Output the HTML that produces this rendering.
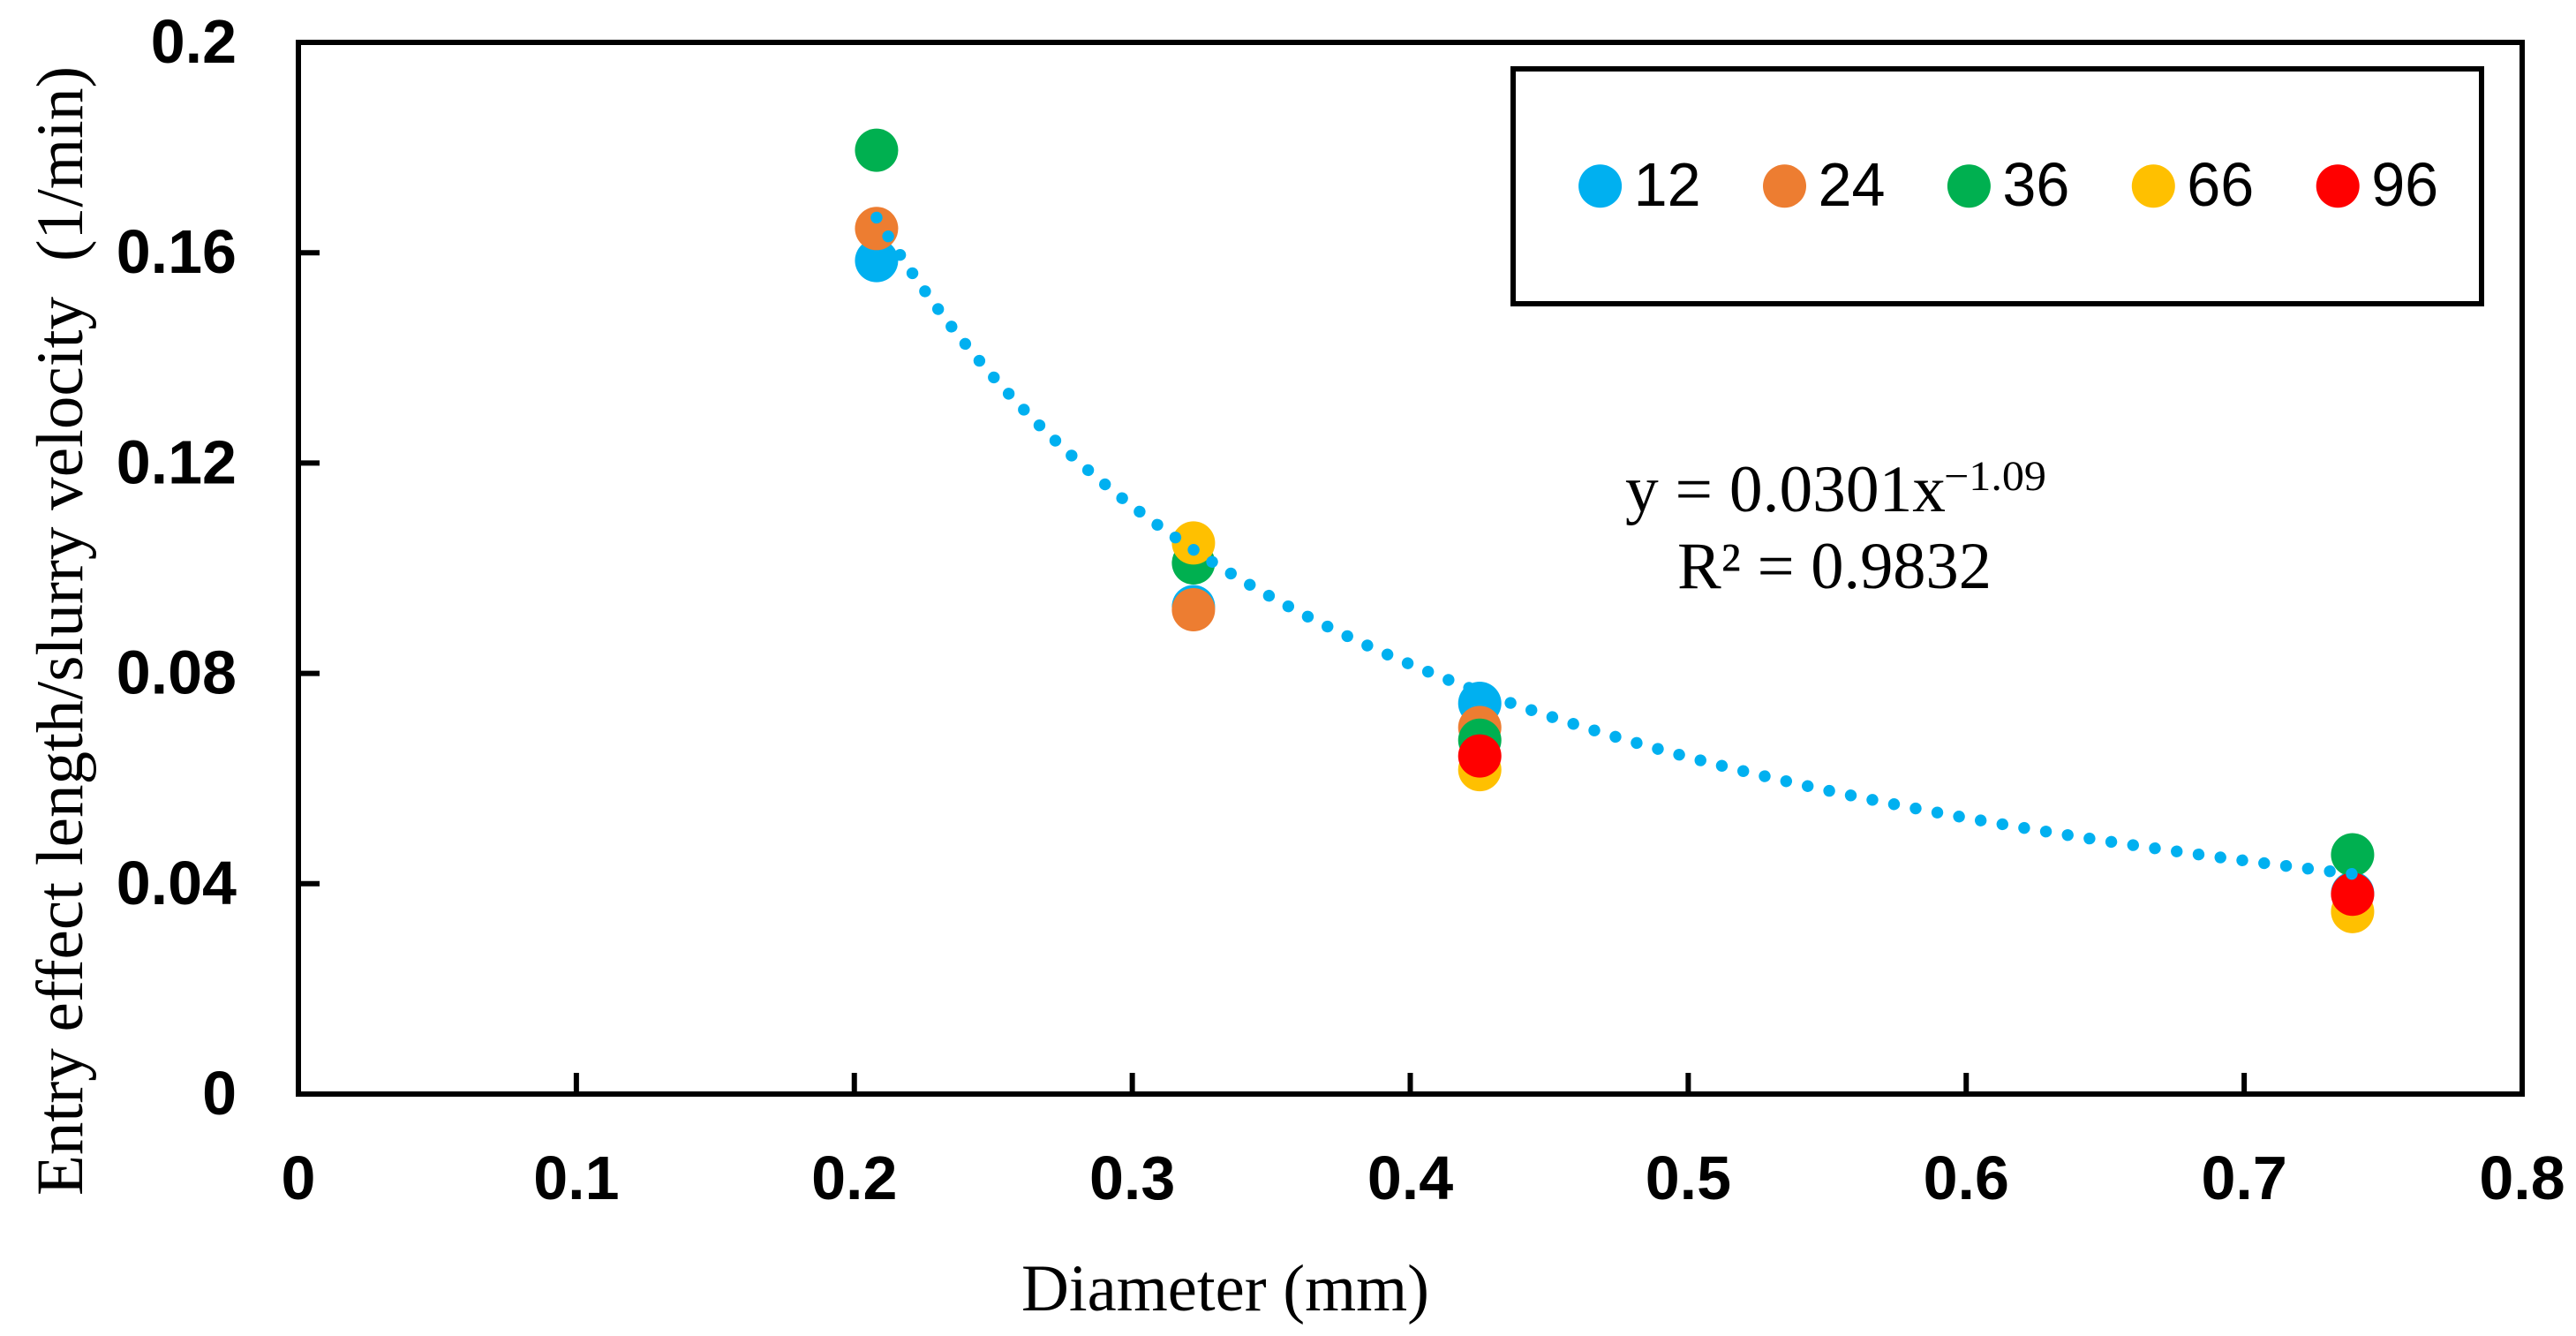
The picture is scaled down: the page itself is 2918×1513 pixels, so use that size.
<!DOCTYPE html>
<html lang="en">
<head>
<meta charset="utf-8">
<title>Entry effect length per slurry velocity vs diameter</title>
<style>
  html, body { margin: 0; padding: 0; background: #ffffff; }
  svg { display: block; }
  text { white-space: pre; }
  .sans { font-family: "Liberation Sans", sans-serif; fill: #000; }
  .serif { font-family: "Liberation Serif", serif; fill: #000; }
</style>
</head>
<body>
<svg id="chart" xmlns="http://www.w3.org/2000/svg" width="2918" height="1513" viewBox="0 0 2918 1513">
  <rect x="0" y="0" width="2918" height="1513" fill="#ffffff"/>
  <rect x="338" y="48" width="2519" height="1191" fill="none" stroke="#000" stroke-width="6"/>
  <g id="ticks"></g>
  <g id="marks"></g>
  <path id="trend" fill="none" stroke="#00B0F0" stroke-width="13.4" stroke-linecap="round" stroke-dasharray="0.01 24.97"/>
  <rect x="1714" y="78" width="1097" height="266" fill="#ffffff" stroke="#000" stroke-width="6"/>
  <g id="legend"></g>
  <text class="serif" x="1157" y="1484" font-size="75" textLength="462" lengthAdjust="spacingAndGlyphs">Diameter (mm)</text>
  <text class="serif" transform="translate(93 1354) rotate(-90)" x="0" y="0" font-size="75" textLength="1018" lengthAdjust="spacingAndGlyphs">Entry effect length/slurry velocity</text>
  <text class="serif" transform="translate(93 296) rotate(-90)" x="0" y="0" font-size="75" textLength="221" lengthAdjust="spacingAndGlyphs">(1/min)</text>
  <text class="serif" x="1841" y="579" font-size="75" textLength="363" lengthAdjust="spacingAndGlyphs">y = 0.0301x</text>
  <text class="serif" x="2202" y="555" font-size="48" textLength="116" lengthAdjust="spacingAndGlyphs">−1.09</text>
  <text class="serif" x="1900" y="666" font-size="75" textLength="356" lengthAdjust="spacingAndGlyphs">R² = 0.9832</text>
</svg>
<script>
const xTickLabels = ['0', '0.1', '0.2', '0.3', '0.4', '0.5', '0.6', '0.7', '0.8'];
const yTickLabels = ['0', '0.04', '0.08', '0.12', '0.16', '0.2'];
const seriesNames = ['12', '24', '36', '66', '96'];
const seriesColors = ['#00B0F0', '#ED7D31', '#00B050', '#FFC000', '#FF0000'];
const diameters = [0.208, 0.322, 0.425, 0.739];
const series12 = [0.1585, 0.0927, 0.0743, 0.0382];
const series24 = [0.1646, 0.0921, 0.0697, null];
const series36 = [0.1795, 0.1010, 0.0673, 0.0455];
const series66 = [null, 0.1048, 0.0617, 0.0347];
const series96 = [null, null, 0.0643, 0.0380];
const trendCoefficient = 0.0301;
const trendExponent = -1.09;
const trendRange = [0.208, 0.739];

const NS = 'http://www.w3.org/2000/svg';
const allSeries = [series12, series24, series36, series66, series96];
const xAxis = { min: 0, max: 0.8, left: 338, right: 2857 };
const yAxis = { min: 0, max: 0.2, bottom: 1239, top: 48 };

function xScale(v) {
  return xAxis.left + (v - xAxis.min) / (xAxis.max - xAxis.min) * (xAxis.right - xAxis.left);
}
function yScale(v) {
  return yAxis.bottom - (v - yAxis.min) / (yAxis.max - yAxis.min) * (yAxis.bottom - yAxis.top);
}
function make(tag, attrs, parent) {
  const el = document.createElementNS(NS, tag);
  Object.keys(attrs).forEach(function (k) { el.setAttribute(k, attrs[k]); });
  parent.appendChild(el);
  return el;
}

const ticksGroup = document.getElementById('ticks');
xTickLabels.forEach(function (label) {
  const v = parseFloat(label);
  const px = xScale(v);
  if (v > xAxis.min && v < xAxis.max) {
    const tick = make('line', { x1: px, x2: px, y1: yAxis.bottom, y2: yAxis.bottom - 24, stroke: '#000', 'stroke-width': 6 }, ticksGroup);
    
    
  }
  const text = make('text', { x: px, y: 1358, 'text-anchor': 'middle', 'font-size': 70, 'font-weight': 'bold', class: 'sans' }, ticksGroup);
  
  
  text.textContent = label;
});
yTickLabels.forEach(function (label) {
  const v = parseFloat(label);
  const py = yScale(v);
  if (v > yAxis.min && v < yAxis.max) {
    const tick = make('line', { x1: xAxis.left, x2: xAxis.left + 24, y1: py, y2: py, stroke: '#000', 'stroke-width': 6 }, ticksGroup);
    
    
  }
  const text = make('text', { x: 268, y: py + 23, 'text-anchor': 'end', 'font-size': 70, 'font-weight': 'bold', class: 'sans' }, ticksGroup);
  
  
  text.textContent = label;
});

const marksGroup = document.getElementById('marks');
allSeries.forEach(function (values, s) {
  values.forEach(function (value, i) {
    if (value === null) return;
    const dot = make('circle', { cx: xScale(diameters[i]), cy: yScale(value), r: 24.5, fill: seriesColors[s] }, marksGroup);
    
    
  });
});

const steps = 240;
let trendPath = '';
for (let i = 0; i <= steps; i++) {
  const d = trendRange[0] + (trendRange[1] - trendRange[0]) * i / steps;
  const val = trendCoefficient * Math.pow(d, trendExponent);
  trendPath += (i === 0 ? 'M' : 'L') + xScale(d).toFixed(2) + ' ' + yScale(val).toFixed(2);
}
document.getElementById('trend').setAttribute('d', trendPath);

const legendGroup = document.getElementById('legend');
seriesNames.forEach(function (name, i) {
  const cx = 1812.6 + i * 208.9;
  const swatch = make('circle', { cx: cx, cy: 210.7, r: 24.5, fill: seriesColors[i] }, legendGroup);
  
  
  const label = make('text', { x: cx + 38, y: 233, 'font-size': 70, textLength: 76, lengthAdjust: 'spacingAndGlyphs', class: 'sans' }, legendGroup);
  
  
  label.textContent = name;
});
</script>
</body>
</html>
